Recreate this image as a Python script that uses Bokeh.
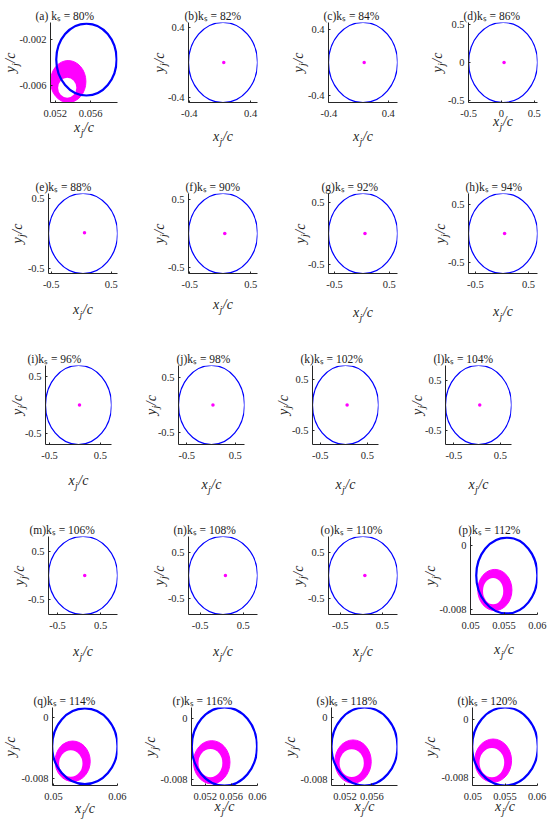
from bokeh.plotting import figure
from bokeh.layouts import column, row
from bokeh.models import Range1d, FixedTicker, LinearAxis
from bokeh.embed import file_html
from bokeh.resources import INLINE

# ---------------- data ----------------
panel_tags = ["(a) ", "(b)", "(c)", "(d)", "(e)", "(f)", "(g)", "(h)", "(i)", "(j)",
              "(k)", "(l)", "(m)", "(n)", "(o)", "(p)", "(q)", "(r)", "(s)", "(t)"]
ks_percent = [80, 82, 84, 86, 88, 90, 92, 94, 96, 98,
              102, 104, 106, 108, 110, 112, 114, 116, 118, 120]

# blue orbit: centre and semi-axes (x_j/c, y_j/c)
orbit_cx = [0.05552, 0.04, 0.06, 0.025, 0.03, 0.045, 0.02, 0.02, 0.07, 0.01,
            0.036, 0.03, 0.09, 0.03, 0.04, 0.05542, 0.05491, 0.05495, 0.0549, 0.0550]
orbit_cy = [-0.00374, 0.0, 0.0, 0.0, 0.0, 0.0, 0.0, 0.0, 0.0, 0.0,
            0.0, 0.0, 0.0, 0.0, 0.0, -0.00375, -0.00376, -0.0037, -0.00375, -0.00373]
orbit_rx = [0.00341, 0.45, 0.465, 0.525, 0.575, 0.565, 0.63, 0.65, 0.65, 0.68,
            0.70, 0.71, 0.80, 0.80, 0.82, 0.00458, 0.00511, 0.0050, 0.0049, 0.0051]
orbit_ry = [0.00313, 0.46, 0.485, 0.52, 0.565, 0.59, 0.65, 0.68, 0.70, 0.72,
            0.77, 0.79, 0.82, 0.84, 0.86, 0.00475, 0.00492, 0.0051, 0.00505, 0.00531]

# magenta band (outer / inner ellipse) for panels a, p, q, r, s, t
band_index = [0, 15, 16, 17, 18, 19]
band_out_cx = [0.05346, 0.05363, 0.0530, 0.0530, 0.0532, 0.05316]
band_out_cy = [-0.005655, -0.00556, -0.00571, -0.00575, -0.0057, -0.00565]
band_out_rx = [0.0020, 0.00256, 0.00275, 0.0028, 0.0027, 0.00286]
band_out_ry = [0.001825, 0.00258, 0.00263, 0.00281, 0.0028, 0.00294]
band_in_cx = [0.05335, 0.05337, 0.05271, 0.0528, 0.0530, 0.05296]
band_in_cy = [-0.0062, -0.0057, -0.0060, -0.00586, -0.0059, -0.00592]
band_in_rx = [0.00103, 0.00152, 0.00183, 0.00183, 0.0018, 0.00192]
band_in_ry = [0.00087, 0.00165, 0.00172, 0.00184, 0.0018, 0.00199]

# magenta point for panels b..o
dot_x = [None, 0.05, 0.076, 0.04, 0.055, 0.074, 0.056, 0.05, 0.09, 0.04,
         0.07, 0.057, 0.13, 0.086, 0.084, None, None, None, None, None]
dot_y = [None, 0.0, 0.0, 0.0, 0.01, 0.0, 0.0, 0.0, 0.0, 0.0,
         0.0, 0.0, 0.0, 0.0, 0.0, None, None, None, None, None]

# axis limits
x_lo = [0.05146, -0.41, -0.405, -0.502, -0.545, -0.52, -0.61, -0.63, -0.58, -0.67,
        -0.664, -0.68, -0.71, -0.77, -0.78, 0.04998, 0.04985, 0.0499, 0.0500, 0.04995]
x_hi = [0.05903, 0.49, 0.525, 0.55, 0.605, 0.61, 0.65, 0.67, 0.72, 0.69,
        0.736, 0.74, 0.89, 0.83, 0.86, 0.06002, 0.06002, 0.06002, 0.0598, 0.06005]
y_lo = [-0.00748, -0.46, -0.485, -0.52, -0.565, -0.59, -0.65, -0.68, -0.70, -0.72,
        -0.77, -0.79, -0.82, -0.84, -0.86, -0.00863, -0.00886, -0.00878, -0.0088, -0.00904]
y_hi = [-0.00052, 0.46, 0.485, 0.52, 0.565, 0.59, 0.65, 0.68, 0.70, 0.72,
        0.77, 0.79, 0.82, 0.84, 0.86, 0.00114, 0.00128, 0.00138, 0.0013, 0.00158]

# tick labels
x_tick_labels = [["0.052", "0.056"], ["-0.4", "0.4"], ["-0.4", "0.4"], ["-0.5", "0", "0.5"]] \
    + [["-0.5", "0.5"]] * 11 \
    + [["0.05", "0.055", "0.06"], ["0.05", "0.06"], ["0.052", "0.056", "0.06"],
       ["0.052", "0.056"], ["0.05", "0.055", "0.06"]]
y_tick_labels = [["-0.006", "-0.002"], ["-0.4", "0.4"], ["-0.4", "0.4"], ["-0.5", "0", "0.5"]] \
    + [["-0.5", "0.5"]] * 11 \
    + [["-0.008", "0"]] * 5

# ---------------- layout / style ----------------
SERIF = "Liberation Serif"
AX = "#262626"
title_offset = [-15, -4, -5, -5, -13, -3, -7, -3, -18, -2,
                -12, -12, -19, -15, -8, -12, -19, -19, -15, -15]
# distance (px) of axis-label centre from the frame edge
xlab_off = [26, 35, 35, 20, 37, 32, 40, 39, 37, 41,
            41, 41, 38, 38, 38, 36, 24, 22, 22, 22]
ylab_off = [36, 26, 26.5, 28, 28, 26, 25, 25, 25, 24,
            25.5, 24.5, 26, 26, 26.5, 36.5, 38, 37.5, 37.5, 38]

row_h = [171, 171, 171, 171, 137]
row_top = [22, 22, 23, 23, 23]
row_frame_h = [80, 80, 79, 78, 79]
col_w = [[140, 140, 140, 130]] * 2 + [[133, 134, 133, 150]] + [[140, 140, 140, 130]] * 2
col_left = [48, 48, 45, 48, 48]
row_frame_w = [69, 69, 66, 69, 69]

TICK_PX = 10.5
LAB_PX = 14
SUB_PX = 10
CHAR_EM = {"-": 0.333, ".": 0.25}
SUB_STANDOFF_X = -17
SUB_STANDOFF_Y = -26


def text_width(s, px):
    return sum(CHAR_EM.get(ch, 0.5) for ch in s) * px


def style_axis(ax):
    ax.axis_line_color = AX
    ax.major_tick_line_color = AX
    ax.major_tick_in = 2
    ax.major_tick_out = 0
    ax.minor_tick_line_color = None
    ax.major_label_text_font = SERIF
    ax.major_label_text_font_size = f"{TICK_PX}px"
    ax.major_label_text_color = AX
    ax.axis_label_text_font = SERIF
    ax.axis_label_text_font_size = f"{LAB_PX}px"
    ax.axis_label_text_font_style = "italic"
    ax.axis_label_text_color = AX


def subscript_axis(pos, standoff, orientation):
    # an extra, line-less axis whose single tick label is the subscript "j"
    ax = LinearAxis(ticker=FixedTicker(ticks=[pos]), major_label_overrides={pos: "j"},
                    axis_line_color=None, major_tick_line_color=None,
                    minor_tick_line_color=None, major_label_standoff=standoff,
                    major_label_orientation=orientation,
                    major_label_text_font=SERIF, major_label_text_font_size=f"{SUB_PX}px",
                    major_label_text_font_style="italic", major_label_text_color=AX)
    return ax


def make_panel(i, width, height, left, fw, top, fh):
    right = width - left - fw
    bottom = height - top - fh
    p = figure(width=width, height=height,
               x_range=Range1d(x_lo[i], x_hi[i]), y_range=Range1d(y_lo[i], y_hi[i]),
               output_backend="svg", toolbar_location=None,
               min_border_left=left, min_border_right=right,
               min_border_top=top, min_border_bottom=bottom,
               title=f"{panel_tags[i]}kₛ = {ks_percent[i]}%")
    p.title.align = "left"
    p.title.offset = title_offset[i]
    p.title.standoff = 1
    p.title.text_font = SERIF
    p.title.text_font_size = "11.5px"
    p.title.text_font_style = "normal"
    p.title.text_color = "#1a1a1a"
    p.grid.visible = False
    p.outline_line_color = None
    p.background_fill_color = "white"

    xt, yt = x_tick_labels[i], y_tick_labels[i]
    p.xaxis.ticker = FixedTicker(ticks=[float(s) for s in xt])
    p.xaxis.major_label_overrides = {float(s): s for s in xt}
    p.yaxis.ticker = FixedTicker(ticks=[float(s) for s in yt])
    p.yaxis.major_label_overrides = {float(s): s for s in yt}
    style_axis(p.xaxis[0])
    style_axis(p.yaxis[0])
    p.xaxis.major_label_standoff = 7
    p.yaxis.major_label_standoff = 4

    # axis labels x_j/c and y_j/c : main label with a gap, subscript j on an extra axis
    p.xaxis.axis_label = "x /c"
    p.yaxis.axis_label = "y /c"
    p.xaxis.axis_label_standoff = int(round(xlab_off[i] - 26))
    wt = max(text_width(s, TICK_PX) for s in yt)
    p.yaxis.axis_label_standoff = int(round(ylab_off[i] - (4 + wt + 7)))

    dxpp = (x_hi[i] - x_lo[i]) / fw
    dypp = (y_hi[i] - y_lo[i]) / fh
    xm = (x_lo[i] + x_hi[i]) / 2
    ym = (y_lo[i] + y_hi[i]) / 2
    p.add_layout(subscript_axis(xm - 2 * dxpp, SUB_STANDOFF_X, "horizontal"), "below")
    p.add_layout(subscript_axis(ym - 2 * dypp, SUB_STANDOFF_Y, "vertical"), "left")

    if i in band_index:
        k = band_index.index(i)
        p.ellipse(x=[band_out_cx[k]], y=[band_out_cy[k]],
                  width=[2 * band_out_rx[k]], height=[2 * band_out_ry[k]],
                  fill_color="#ff00ff", line_color="#ff00ff", line_width=1)
        p.ellipse(x=[band_in_cx[k]], y=[band_in_cy[k]],
                  width=[2 * band_in_rx[k]], height=[2 * band_in_ry[k]],
                  fill_color="white", line_color=None)
        lw = 2.2
    else:
        lw = 1.2
    p.ellipse(x=[orbit_cx[i]], y=[orbit_cy[i]],
              width=[2 * orbit_rx[i]], height=[2 * orbit_ry[i]],
              fill_color=None, line_color="#0000ff", line_width=lw)
    if dot_x[i] is not None:
        p.scatter(x=[dot_x[i]], y=[dot_y[i]], size=3.5, color="#ff00ff", line_color=None)
    return p


rows = []
for r in range(5):
    figs = []
    for c in range(4):
        i = r * 4 + c
        figs.append(make_panel(i, col_w[r][c], row_h[r], col_left[r], row_frame_w[r],
                               row_top[r], row_frame_h[r]))
    rows.append(row(*figs))

layout = column(*rows)
open("out.html", "w").write(file_html(layout, INLINE))
